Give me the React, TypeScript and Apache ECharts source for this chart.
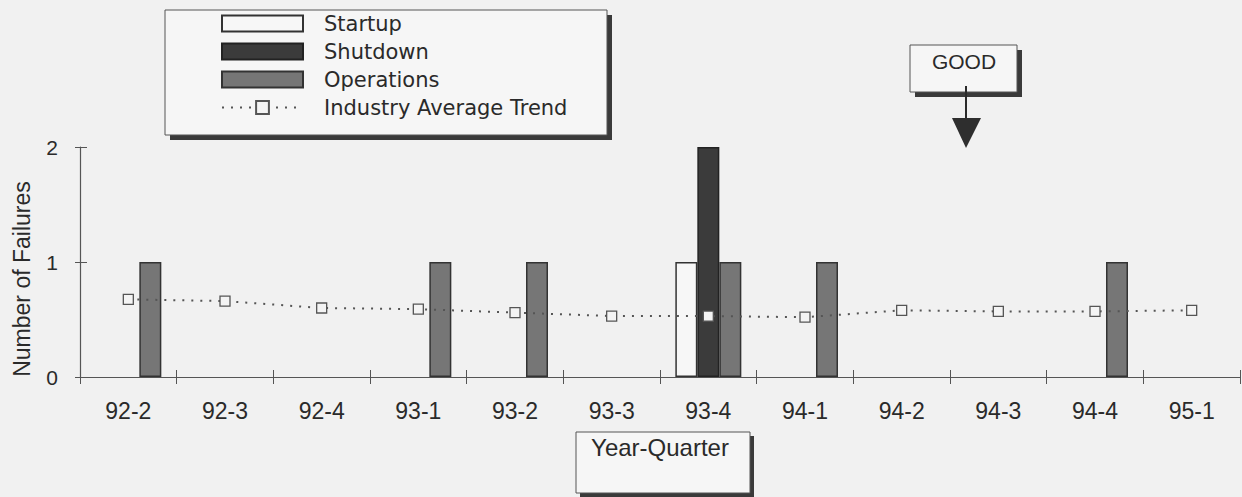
import React, { useEffect, useRef } from "react";
import * as echarts from "echarts";

const categories = ["92-2", "92-3", "92-4", "93-1", "93-2", "93-3", "93-4", "94-1", "94-2", "94-3", "94-4", "95-1"];
const startup = [0, 0, 0, 0, 0, 0, 1, 0, 0, 0, 0, 0];
const shutdown = [0, 0, 0, 0, 0, 0, 2, 0, 0, 0, 0, 0];
const operations = [1, 0, 0, 1, 1, 0, 1, 1, 0, 0, 1, 0];
const industryAvg = [0.675, 0.66, 0.6, 0.59, 0.56, 0.53, 0.53, 0.52, 0.58, 0.57, 0.57, 0.58];
const seriesNames = ["Startup", "Shutdown", "Operations", "Industry Average Trend"];
const yMin = 0;
const yMax = 2;
const yInterval = 1;

const BG = "#f1f1f1";
const INK = "#2a2a2a";
const SANS = "'Liberation Sans', Arial, sans-serif";

// zero counts draw no bar (avoid a bordered zero-height sliver)
const bars = (vals: number[]) => vals.map((v) => (v === 0 ? null : v));

function boxWithShadow(x: number, y: number, w: number, h: number, off: number) {
  return [
    { type: "rect", z: 1, shape: { x: x + off, y: y + off, width: w, height: h }, style: { fill: "#3a3a3a" }, silent: true },
    { type: "rect", z: 1, shape: { x, y, width: w, height: h }, style: { fill: "#f6f6f6", stroke: "#555", lineWidth: 1 }, silent: true },
  ];
}

export default function App() {
  const ref = useRef<HTMLDivElement>(null);
  useEffect(() => {
    document.body.style.margin = "0";
    if (!ref.current) return;
    const chart = echarts.init(ref.current, null, { renderer: "svg" });
    const xAxisBase = {
      type: "category",
      data: categories,
      boundaryGap: true,
      position: "bottom",
    };
    chart.setOption({
      animation: false,
      backgroundColor: BG,
      grid: { left: 80, right: 2, top: 147, bottom: 120, containLabel: false, outerBoundsMode: "none" },
      legend: {
        orient: "vertical",
        left: 221,
        top: 13,
        z: 10,
        itemWidth: 81,
        itemHeight: 16,
        itemGap: 7,
        padding: 0,
        textStyle: { fontFamily: "'DejaVu Sans', sans-serif", fontSize: 21, color: INK, padding: [0, 0, 0, 16] },
        data: [
          { name: seriesNames[0], icon: "rect" },
          { name: seriesNames[1], icon: "rect" },
          { name: seriesNames[2], icon: "rect" },
          { name: seriesNames[3] },
        ],
      },
      xAxis: [
        {
          ...xAxisBase,
          z: 5,
          axisLine: { lineStyle: { color: "#555", width: 1.2 } },
          axisTick: { show: true, length: 7, lineStyle: { color: "#555" } },
          axisLabel: { fontFamily: SANS, fontSize: 23, color: INK, margin: 22 },
          name: "Year-Quarter",
          nameLocation: "middle",
          nameGap: 58,
          nameTextStyle: { fontFamily: SANS, fontSize: 24, color: INK, verticalAlign: "top" },
        },
        {
          ...xAxisBase,
          z: 5,
          axisLine: { show: false },
          axisTick: { show: true, inside: true, length: 7, lineStyle: { color: "#555" } },
          axisLabel: { show: false },
        },
      ],
      yAxis: [
        {
          type: "value",
          position: "left",
          min: yMin,
          max: yMax,
          interval: yInterval,
          z: 5,
          splitLine: { show: false },
          axisLine: { show: true, lineStyle: { color: "#555", width: 1.2 } },
          axisTick: { show: true, length: 5, lineStyle: { color: "#555" } },
          axisLabel: { fontFamily: SANS, fontSize: 21, color: INK, margin: 22 },
          name: "Number of Failures",
          nameLocation: "middle",
          nameGap: 47,
          nameRotate: 90,
          nameTextStyle: { fontFamily: SANS, fontSize: 23, color: INK, padding: [0, 34, 0, 0] },
        },
        {
          type: "value",
          position: "left",
          min: yMin,
          max: yMax,
          interval: yInterval,
          z: 5,
          splitLine: { show: false },
          axisLine: { show: false },
          axisTick: { show: true, inside: true, length: 7, lineStyle: { color: "#555" } },
          axisLabel: { show: false },
        },
      ],
      graphic: [
        ...boxWithShadow(165, 10, 442, 125, 5),
        ...boxWithShadow(910, 45, 107, 47, 5),
        ...boxWithShadow(576, 432, 174, 61, 4),
        {
          type: "text",
          z: 3,
          style: { text: "GOOD", x: 964, y: 61, fontFamily: SANS, fontSize: 21, fill: INK, align: "center", verticalAlign: "middle" },
        },
        { type: "line", z: 3, shape: { x1: 966, y1: 86, x2: 966, y2: 120 }, style: { stroke: "#2a2a2a", lineWidth: 2 } },
        { type: "polygon", z: 3, shape: { points: [[952, 118], [981, 118], [966, 148]] }, style: { fill: "#2e2e2e" } },
      ],
      series: [
        {
          name: seriesNames[0],
          type: "bar",
          data: bars(startup),
          barWidth: 22,
          barGap: "0%",
          itemStyle: { color: "#f7f7f7", borderColor: "#333", borderWidth: 1.5 },
        },
        {
          name: seriesNames[1],
          type: "bar",
          data: bars(shutdown),
          barWidth: 22,
          barGap: "0%",
          itemStyle: { color: "#3b3b3b", borderColor: "#222", borderWidth: 1.5 },
        },
        {
          name: seriesNames[2],
          type: "bar",
          data: bars(operations),
          barWidth: 22,
          barGap: "0%",
          itemStyle: { color: "#767676", borderColor: "#333", borderWidth: 1.5 },
        },
        {
          name: seriesNames[3],
          type: "line",
          data: industryAvg,
          z: 4,
          symbol: "rect",
          symbolSize: 10,
          showAllSymbol: true,
          lineStyle: { color: "#555", width: 2, type: [2, 7] },
          itemStyle: { color: "#f4f4f4", borderColor: "#555", borderWidth: 1.3 },
        },
      ],
    });
    return () => chart.dispose();
  }, []);
  return <div ref={ref} style={{ width: 1242, height: 497 }} />;
}
